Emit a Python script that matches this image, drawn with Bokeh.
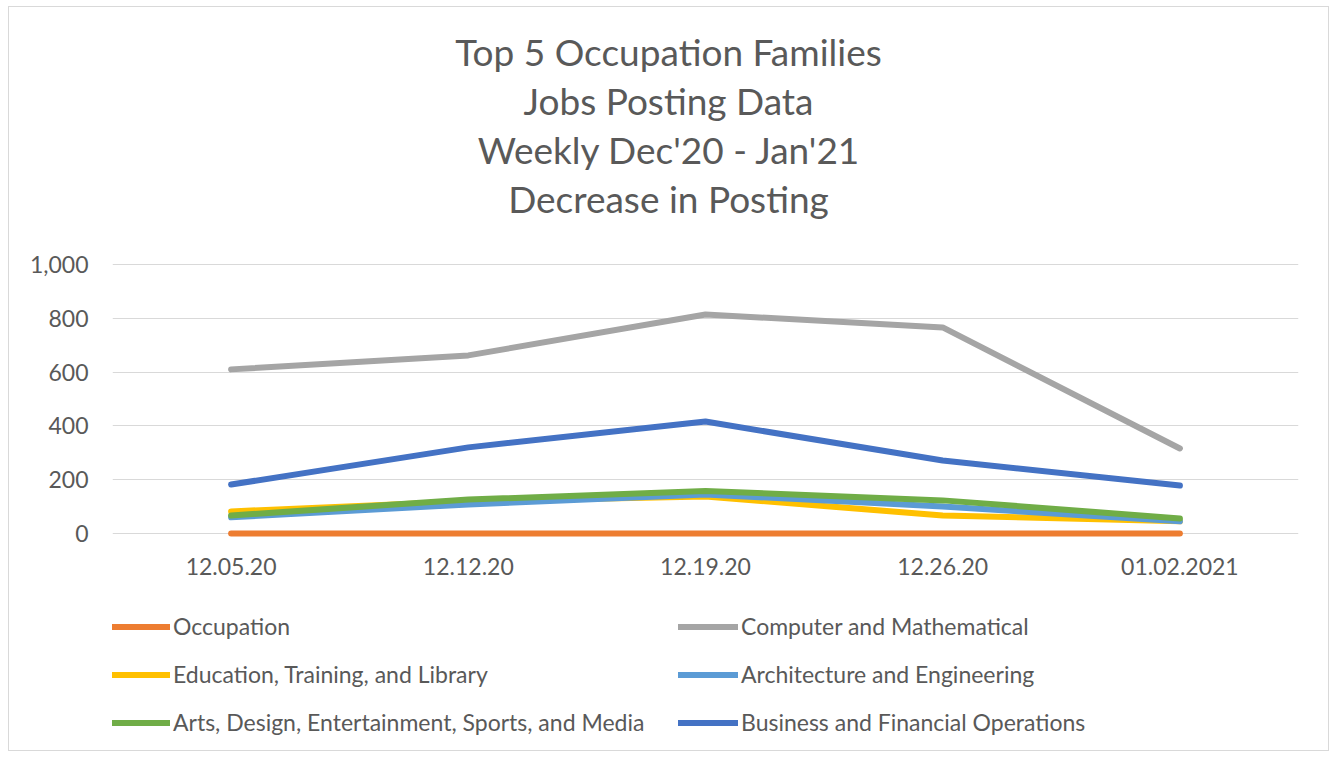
from bokeh.plotting import figure
from bokeh.models import Range1d, Legend, LegendItem, NumeralTickFormatter, FixedTicker, Div
from bokeh.layouts import column
from bokeh.embed import file_html
from bokeh.resources import INLINE

weeks = ["12.05.20", "12.12.20", "12.19.20", "12.26.20", "01.02.2021"]
occupation = [0, 0, 0, 0, 0]
computer_math = [610, 662, 814, 766, 316]
education = [82, 120, 137, 67, 45]
architecture = [60, 108, 145, 100, 45]
arts = [67, 126, 158, 123, 56]
business = [182, 320, 416, 271, 178]

title_lines = ["Top 5 Occupation Families", "Jobs Posting Data", "Weekly Dec'20 - Jan'21", "Decrease in Posting"]

series = [
    ("Occupation", occupation, "#ED7D31"),
    ("Computer and Mathematical", computer_math, "#A5A5A5"),
    ("Education, Training, and Library", education, "#FFC000"),
    ("Architecture and Engineering", architecture, "#5B9BD5"),
    ("Arts, Design, Entertainment, Sports, and Media", arts, "#70AD47"),
    ("Business and Financial Operations", business, "#4472C4"),
]

FONT = "Lato"
TXT = "#595959"
W = 1319

title = Div(text="<div style='padding-top:20px; line-height:49px; text-align:center; width:%dpx;"
                 " font-family:Lato; font-size:37px; color:%s;'>%s</div>" % (W, TXT, "<br>".join(title_lines)),
            width=W, height=230, margin=0)

p = figure(x_range=weeks, y_range=Range1d(-41, 1011), width=W, height=357,
           output_backend="svg", toolbar_location=None, margin=0,
           min_border_left=103, min_border_right=30, min_border_top=24, min_border_bottom=50)
p.x_range.range_padding = 0

for name, vals, col in series:
    p.line(weeks, vals, line_color=col, line_width=6, line_cap="round", line_join="round")

p.outline_line_color = None
p.xgrid.grid_line_color = None
p.ygrid.grid_line_color = "#D9D9D9"
p.ygrid.grid_line_width = 1
p.yaxis.ticker = FixedTicker(ticks=[0, 200, 400, 600, 800, 1000])
p.yaxis.formatter = NumeralTickFormatter(format="0,0")

for ax in (p.xaxis, p.yaxis):
    ax.axis_line_color = None
    ax.major_tick_line_color = None
    ax.minor_tick_line_color = None
    ax.major_tick_out = 0
    ax.major_tick_in = 0
    ax.major_label_text_font = FONT
    ax.major_label_text_font_size = "23px"
    ax.major_label_text_color = TXT
p.yaxis.major_label_standoff = 24
p.xaxis.major_label_standoff = 13

# legend panel (series drawn outside its visible range so only the legend shows)
lf = figure(x_range=weeks, y_range=Range1d(5000, 6000), width=W, height=156,
            output_backend="svg", toolbar_location=None, margin=0,
            x_axis_type=None, y_axis_type=None,
            min_border_left=0, min_border_right=0, min_border_top=0, min_border_bottom=0)
lf.outline_line_color = None
lf.grid.visible = False
items = []
for name, vals, col in series:
    r = lf.line(weeks, vals, line_color=col, line_width=6, line_cap="round", line_join="round")
    items.append(LegendItem(label=name, renderers=[r]))

legend = Legend(items=items, location=(-2, 14), orientation="horizontal", ncols=2,
                glyph_width=60, glyph_height=21, label_height=21, label_standoff=3,
                label_width=485, spacing=20, padding=0, margin=0,
                label_text_font=FONT, label_text_font_size="23px", label_text_color=TXT,
                border_line_color=None, background_fill_alpha=0)
lf.add_layout(legend, "center")

layout = column(title, p, lf, spacing=0,
                styles={"margin": "6px 0 0 8px", "border": "1px solid #d9d9d9"})

open("out.html", "w").write(file_html(layout, INLINE))
